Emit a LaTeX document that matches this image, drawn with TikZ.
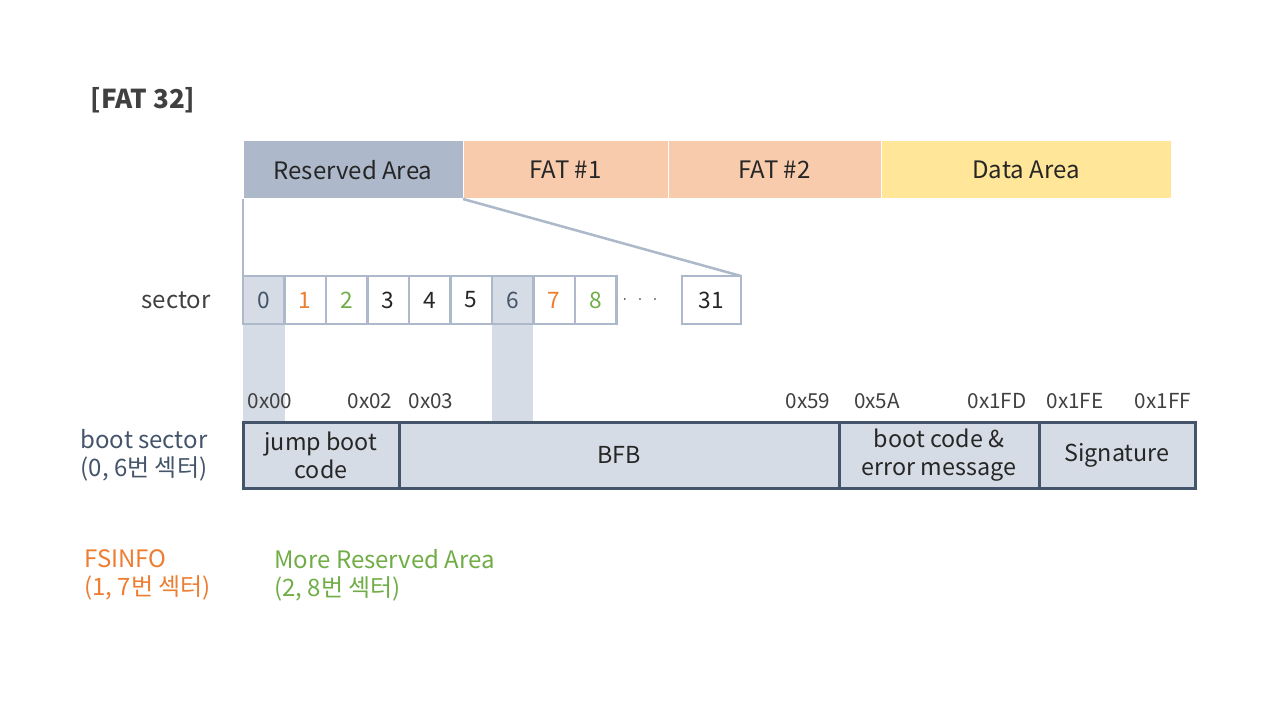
\documentclass[tikz,border=0pt]{standalone}
\usepackage{fontspec}
\setmainfont{Noto Sans CJK KR}
\definecolor{resv}{HTML}{ADB9CA}
\definecolor{fatc}{HTML}{F8CBAD}
\definecolor{datac}{HTML}{FFE699}
\definecolor{lite}{HTML}{D6DCE5}
\definecolor{navy}{HTML}{44546A}
\definecolor{orng}{HTML}{ED7D31}
\definecolor{grn}{HTML}{70AD47}
\definecolor{dgray}{HTML}{404040}
\definecolor{txt}{HTML}{262626}
\begin{document}
\begin{tikzpicture}[x=0.75pt,y=-0.75pt,
  area/.style={draw=white,line width=0.75pt,minimum height=43.5pt,inner sep=0pt,outer sep=0pt,text=txt,font=\fontsize{18}{21}\selectfont},
  sec/.style={draw=resv,fill=white,line width=1.9pt,minimum height=36pt,minimum width=31.125pt,inner sep=0pt,outer sep=0pt,text=txt,font=\fontsize{17}{20}\selectfont},
  bootcell/.style={draw=navy,fill=lite,line width=2.25pt,minimum height=49.5pt,inner sep=0pt,outer sep=0pt,align=center,text=txt,font=\fontsize{17.5}{21}\selectfont},
  addr/.style={text=dgray,font=\fontsize{15.5}{18}\selectfont,inner sep=0pt},
  zoomline/.style={draw=resv,line width=1.9pt},
  side/.style={font=\fontsize{18}{21}\selectfont,inner sep=0pt}]
\useasboundingbox (0,0) rectangle (1280,720);

% title
\node[text=dgray,font=\bfseries\fontsize{19.5}{22}\selectfont,inner sep=0pt] (title) at (143,100) {[FAT 32]};

% top bar
\node[area,fill=resv,minimum width=165pt] (ra) at (353,170) {Reserved Area};
\node[area,fill=fatc,minimum width=153.75pt] (f1) at (565.5,170) {FAT \#1};
\node[area,fill=fatc,minimum width=159.75pt] (f2) at (774.5,170) {FAT \#2};
\node[area,fill=datac,minimum width=217.5pt] (da) at (1026,170) {Data Area};

% shaded columns
\fill[lite] (243,324) rectangle (284.5,421);
\fill[lite] (491.5,324) rectangle (533,421);

% sector boxes
\node[side,text=dgray] (seclab) at (176,300) {sector};
\node[sec,fill=lite,text=navy] (s0) at (263.75,300) {0};
\node[sec,text=orng] (s1) at (305.25,300) {1};
\node[sec,text=grn] (s2) at (346.75,300) {2};
\node[sec] (s3) at (388.25,300) {3};
\node[sec] (s4) at (429.75,300) {4};
\node[sec] (s5) at (471.25,300) {5};
\node[sec,fill=lite,text=navy] (s6) at (512.75,300) {6};
\node[sec,text=orng] (s7) at (554.25,300) {7};
\node[sec,text=grn] (s8) at (595.75,300) {8};
\node[text=txt,font=\fontsize{13}{16}\selectfont,inner sep=0pt] (dots) at (640,300) {$\cdot\;\,\cdot\;\,\cdot$};
\node[sec,minimum width=44.25pt] (s31) at (711.5,300) {31};

% zoom lines
\draw[zoomline] (ra.south west) -- (s0.north west);
\draw[zoomline] (ra.south east) -- (s31.north east);

% addresses
\node[addr] (a0) at (270,401) {0x00};
\node[addr] (a1) at (370,401) {0x02};
\node[addr] (a2) at (431,401) {0x03};
\node[addr] (a3) at (808,401) {0x59};
\node[addr] (a4) at (877,401) {0x5A};
\node[addr] (a5) at (997,401) {0x1FD};
\node[addr] (a6) at (1075,401) {0x1FE};
\node[addr] (a7) at (1163,401) {0x1FF};

% boot sector row
\node[bootcell,minimum width=117pt] (jb) at (321,455) {jump boot\\code};
\node[bootcell,minimum width=330pt] (bfb) at (619,455) {BFB};
\node[bootcell,minimum width=150pt] (bc) at (939,455) {boot code \&\\error message};
\node[bootcell,minimum width=117pt] (sig) at (1117,455) {Signature};

% side labels
\node[side,text=navy,align=center] (bs) at (144,455) {boot sector\\(0, 6번 섹터)};
\node[side,text=orng,align=left,anchor=west] (fs) at (84,575) {FSINFO\\(1, 7번 섹터)};
\node[side,text=grn,align=left,anchor=west] (mr) at (274,575) {More Reserved Area\\(2, 8번 섹터)};
\end{tikzpicture}
\end{document}
